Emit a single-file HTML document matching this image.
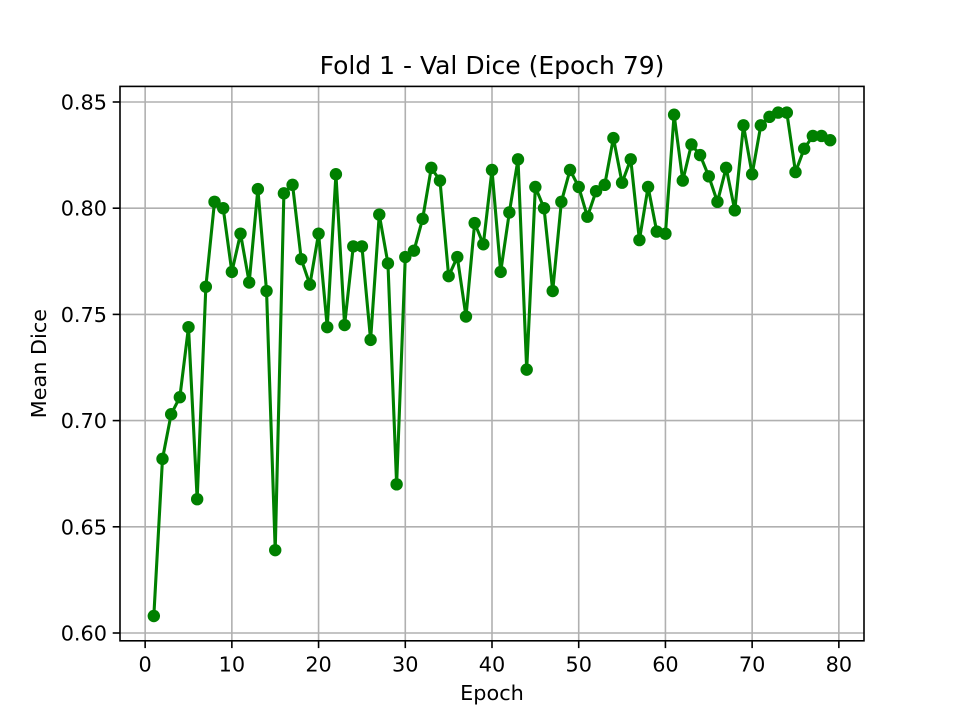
<!DOCTYPE html>
<html><head><meta charset="utf-8"><style>
html,body{margin:0;padding:0;background:#fff;}
svg{display:block;font-family:"DejaVu Sans","Liberation Sans",sans-serif;}
</style></head><body>
<svg id="chart" width="960" height="720" viewBox="0 0 960 720" xmlns="http://www.w3.org/2000/svg">
<rect width="960" height="720" fill="#fff"/>
<g id="grid"></g>
<g id="series"></g>
<rect x="120" y="86.4" width="744" height="554.4" fill="none" stroke="#000" stroke-width="1.6"/>
<g id="axes"></g>
<text x="492" y="74" text-anchor="middle" font-size="25">Fold 1 - Val Dice (Epoch 79)</text>
<text x="492" y="700" text-anchor="middle" font-size="20.8">Epoch</text>
<text transform="translate(46,363.6) rotate(-90)" text-anchor="middle" font-size="20.8">Mean Dice</text>
</svg>
<script>
const epochs = Array.from({length:79},(_,i)=>i+1);
const dice = [0.608,0.682,0.703,0.711,0.744,0.663,0.763,0.803,0.800,0.770,
0.788,0.765,0.809,0.761,0.639,0.807,0.811,0.776,0.764,0.788,
0.744,0.816,0.745,0.782,0.782,0.738,0.797,0.774,0.670,0.777,
0.780,0.795,0.819,0.813,0.768,0.777,0.749,0.793,0.783,0.818,
0.770,0.798,0.823,0.724,0.810,0.800,0.761,0.803,0.818,0.810,
0.796,0.808,0.811,0.833,0.812,0.823,0.785,0.810,0.789,0.788,
0.844,0.813,0.830,0.825,0.815,0.803,0.819,0.799,0.839,0.816,
0.839,0.843,0.845,0.845,0.817,0.828,0.834,0.834,0.832];
const xTicks = [0,10,20,30,40,50,60,70,80];
const yTicks = [0.60,0.65,0.70,0.75,0.80,0.85];

const L=120,R=864,T=86.4,B=640.8;
const xMin=-2.9,xMax=82.9,yMin=0.59633,yMax=0.85734;
const sx=v=>L+(v-xMin)/(xMax-xMin)*(R-L);
const sy=v=>B-(v-yMin)/(yMax-yMin)*(B-T);
const NS="http://www.w3.org/2000/svg";
function mk(tag,attrs,parent){const e=document.createElementNS(NS,tag);for(const k in attrs)e.setAttribute(k,attrs[k]);parent.appendChild(e);return e;}
const grid=document.getElementById('grid'),axes=document.getElementById('axes'),series=document.getElementById('series');

xTicks.forEach(t=>{
  const x=sx(t);
  const g=mk('line',{x1:x,x2:x,y1:T,y2:B,stroke:'#b0b0b0','stroke-width':1.6},grid);
  
  
  const tk=mk('line',{x1:x,x2:x,y1:B,y2:B+7.3,stroke:'#000','stroke-width':1.6},axes);
  
  
  const lb=mk('text',{x:x,y:B+30.5,'text-anchor':'middle','font-size':20.8},axes);
  lb.textContent=t;
  
  
});
yTicks.forEach(t=>{
  const y=sy(t);
  const g=mk('line',{x1:L,x2:R,y1:y,y2:y,stroke:'#b0b0b0','stroke-width':1.6},grid);
  
  
  const tk=mk('line',{x1:L-7.3,x2:L,y1:y,y2:y,stroke:'#000','stroke-width':1.6},axes);
  
  
  const lb=mk('text',{x:L-13,y:y+7.5,'text-anchor':'end','font-size':20.8},axes);
  lb.textContent=t.toFixed(2);
  
  
});
const pts=epochs.map((e,i)=>sx(e).toFixed(2)+','+sy(dice[i]).toFixed(2)).join(' ');
const line=mk('polyline',{points:pts,fill:'none',stroke:'#008000','stroke-width':3.1,'stroke-linejoin':'round'},series);


epochs.forEach((e,i)=>{
  const c=mk('circle',{cx:sx(e),cy:sy(dice[i]),r:6.2,fill:'#008000'},series);
  
  
});
</script>
</body></html>
